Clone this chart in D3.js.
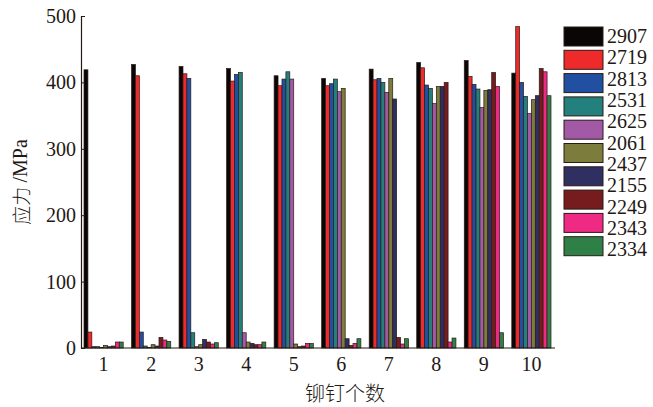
<!DOCTYPE html>
<html>
<head>
<meta charset="utf-8">
<script src="https://cdn.jsdelivr.net/npm/d3@7"></script>
<style>
  body { margin: 0; background: #fff; }
  text { font-family: "Liberation Serif", "Times New Roman", serif; fill: #231815; }
  .cjk { font-family: "Noto Sans CJK SC", sans-serif; font-weight: 300; }
</style>
</head>
<body>
<div id="chart"></div>
<script>
// categories on x axis (number of rivets)
const categories = ["1", "2", "3", "4", "5", "6", "7", "8", "9", "10"];
// one colour per bar series
const seriesColors = ["#0a0606", "#ee2a2a", "#2150a3", "#23807c", "#a35aa6", "#7c7c3c", "#2f2f62", "#761c1f", "#ee2a84", "#2f8046"];
// legend text as printed (one more label than boxes in the original figure)
const legendLabels = ["2907", "2719", "2813", "2531", "2625", "2061", "2437", "2155", "2249", "2343", "2334"];
// stress values, one array per series, in category order
const s2907 = [419, 427, 424, 421, 410, 406, 420, 430, 433, 414];
const s2719 = [24, 410, 413, 402, 395, 395, 404, 422, 409, 484];
const s2813 = [2, 24, 406, 412, 405, 398, 406, 396, 397, 400];
const s2531 = [2, 3, 23, 415, 416, 405, 400, 391, 390, 379];
const s2625 = [1, 1, 2, 23, 405, 386, 385, 368, 362, 353];
const s2061 = [4, 5, 5, 9, 6, 391, 406, 394, 388, 374];
const s2437 = [2, 3, 13, 7, 2, 14, 375, 394, 389, 380];
const s2155 = [3, 16, 9, 5, 3, 4, 16, 400, 415, 421];
const s2249 = [9, 12, 6, 5, 7, 7, 6, 9, 394, 416];
const s2343 = [9, 10, 8, 9, 7, 14, 14, 15, 23, 380];
const seriesValues = [s2907, s2719, s2813, s2531, s2625, s2061, s2437, s2155, s2249, s2343];
const yTicks = [0, 100, 200, 300, 400, 500];

const width = 653, height = 407;
const margin = {top: 16, right: 98, bottom: 59, left: 81};

const svg = d3.select("#chart").append("svg")
  .attr("width", width)
  .attr("height", height);

const x = d3.scaleBand()
  .domain(categories)
  .range([84, 551])
  .paddingInner(0.175)
  .paddingOuter(0);

const xInner = d3.scaleBand()
  .domain(d3.range(seriesValues.length))
  .range([0, x.bandwidth()]);

const y = d3.scaleLinear()
  .domain([0, 500])
  .range([348, margin.top]);

// bars
const groups = svg.selectAll("g.group").data(categories)
  .join("g")
  .classed("group", true)
  .attr("transform", d => `translate(${x(d)},0)`);

groups.selectAll("rect")
  .data((c, ci) => seriesValues.map((s, si) => ({si, v: s[ci]})))
  .join("rect")
  .attr("x", d => xInner(d.si))
  .attr("y", d => y(d.v))
  .attr("width", xInner.bandwidth())
  .attr("height", d => y(0) - y(d.v))
  .attr("fill", d => seriesColors[d.si])
  .attr("stroke", "#2a1a18")
  .attr("stroke-width", 0.7);

// y axis
const yAxis = svg.append("g")
  .attr("transform", `translate(${margin.left},0)`)
  .call(d3.axisLeft(y).tickValues(yTicks).tickSize(-4).tickPadding(5));
yAxis.select(".domain").attr("stroke", "#231815").attr("stroke-width", 1.2);
yAxis.selectAll(".tick line").attr("stroke", "#231815");
yAxis.selectAll(".tick text").attr("font-size", 20)
  .attr("font-family", "Liberation Serif, serif").attr("fill", "#231815");

// x axis
const xAxis = svg.append("g")
  .attr("transform", `translate(0,${y(0)})`)
  .call(d3.axisBottom(x).tickSize(0).tickPadding(9).tickSizeOuter(0));
xAxis.select(".domain").attr("d", `M${margin.left},0H555`).attr("stroke", "#231815").attr("stroke-width", 1.2);
xAxis.selectAll(".tick text").attr("font-size", 20)
  .attr("font-family", "Liberation Serif, serif").attr("fill", "#231815");

// axis titles
const yTitle = svg.append("text")
  .attr("transform", `translate(20,${(y(0) + y(500)) / 2}) rotate(-90)`)
  .attr("text-anchor", "middle")
  .attr("dominant-baseline", "central")
  .attr("font-size", 19);
yTitle.append("tspan").attr("class", "cjk").text("应力 ");
yTitle.append("tspan").attr("font-size", 20).text("/MPa");

svg.append("text")
  .attr("class", "cjk")
  .attr("x", 345)
  .attr("y", 401)
  .attr("text-anchor", "middle")
  .attr("font-size", 20)
  .text("铆钉个数");

// legend
const legend = svg.append("g");
legend.selectAll("rect").data(seriesColors)
  .join("rect")
  .attr("x", 564)
  .attr("y", (d, i) => 27 + i * 23.3)
  .attr("width", 39)
  .attr("height", 19)
  .attr("fill", d => d)
  .attr("stroke", "#2a1a18")
  .attr("stroke-width", 1);

legend.selectAll("text").data(legendLabels)
  .join("text")
  .attr("x", 607)
  .attr("y", (d, i) => 43 + i * 21.33)
  .attr("font-size", 20)
  .text(d => d);
</script>
</body>
</html>
